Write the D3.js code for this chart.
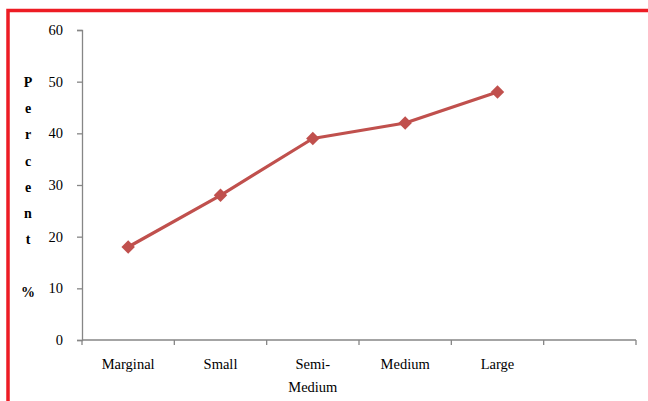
<!DOCTYPE html>
<html><head><meta charset="utf-8">
<script src="https://cdn.jsdelivr.net/npm/d3@7/dist/d3.min.js"></script>
<style>body{margin:0;background:#fff}svg{display:block}</style>
</head><body>
<script>
const categories = ["Marginal", "Small", "Semi-Medium", "Medium", "Large", ""];
const catLabels = [["Marginal"], ["Small"], ["Semi-", "Medium"], ["Medium"], ["Large"], [""]];
const values = [18, 28, 39, 42, 48];
const yTicks = [0, 10, 20, 30, 40, 50, 60];
const yLabelChars = ["P", "e", "r", "c", "e", "n", "t", "", "%"];

const W = 648, H = 401;
const svg = d3.select("body").append("svg").attr("width", W).attr("height", H);
const font = "'Liberation Serif', 'Times New Roman', serif";

// red frame
svg.append("path").attr("d", `M8,${H} V10.5 H${W}`).attr("fill", "none")
  .attr("stroke", "#ed1c24").attr("stroke-width", 3.5);

const x = d3.scaleBand().domain(categories).range([82, 636]);
const y = d3.scaleLinear().domain([0, 60]).range([340, 30]);
const axisColor = "#868686";

// y axis
const gy = svg.append("g").attr("transform", "translate(82,0)")
  .call(d3.axisLeft(y).tickValues(yTicks).tickSize(5).tickPadding(14));
gy.select(".domain").attr("stroke", axisColor).attr("stroke-width", 1.3);
gy.selectAll(".tick line").attr("stroke", axisColor).attr("stroke-width", 1.3);
gy.selectAll(".tick text").attr("font-family", font).attr("font-size", 14.5).attr("fill", "#000");

// x axis
const gx = svg.append("g").attr("transform", "translate(0,340)")
  .call(d3.axisBottom(x).tickSize(0).tickFormat(""));
gx.select(".domain").attr("stroke", axisColor).attr("stroke-width", 1.3).attr("d", "M82,0H636");
const edges = categories.map((c) => x(c) + x.bandwidth()).concat([x(categories[0])]);
gx.selectAll(".edge").data(edges).enter().append("line")
  .attr("x1", d => d).attr("x2", d => d).attr("y1", 0).attr("y2", 5)
  .attr("stroke", axisColor).attr("stroke-width", 1.3);
catLabels.forEach((lines, i) => {
  const cx = x(categories[i]) + x.bandwidth() / 2;
  lines.forEach((t, j) => {
    svg.append("text").attr("x", cx).attr("y", 369 + j * 23)
      .attr("text-anchor", "middle").attr("font-family", font).attr("font-size", 14.5)
      .attr("fill", "#000").text(t);
  });
});

// y label vertical
yLabelChars.forEach((ch, i) => {
  svg.append("text").attr("x", 28).attr("y", 87 + i * 26.2)
    .attr("text-anchor", "middle").attr("font-family", font).attr("font-size", 14)
    .attr("font-weight", "bold").attr("fill", "#000").text(ch);
});

// line
const pts = values.map((v, i) => [x(categories[i]) + x.bandwidth() / 2, y(v)]);
svg.append("path").attr("d", d3.line()(pts)).attr("fill", "none")
  .attr("stroke", "#c0504d").attr("stroke-width", 3.2).attr("stroke-linejoin", "round");
svg.selectAll(".m").data(pts).enter().append("path")
  .attr("d", d3.symbol().type(d3.symbolDiamond2).size(115))
  .attr("transform", d => `translate(${d[0]},${d[1]})`)
  .attr("fill", "#c0504d");
</script>
</body></html>
